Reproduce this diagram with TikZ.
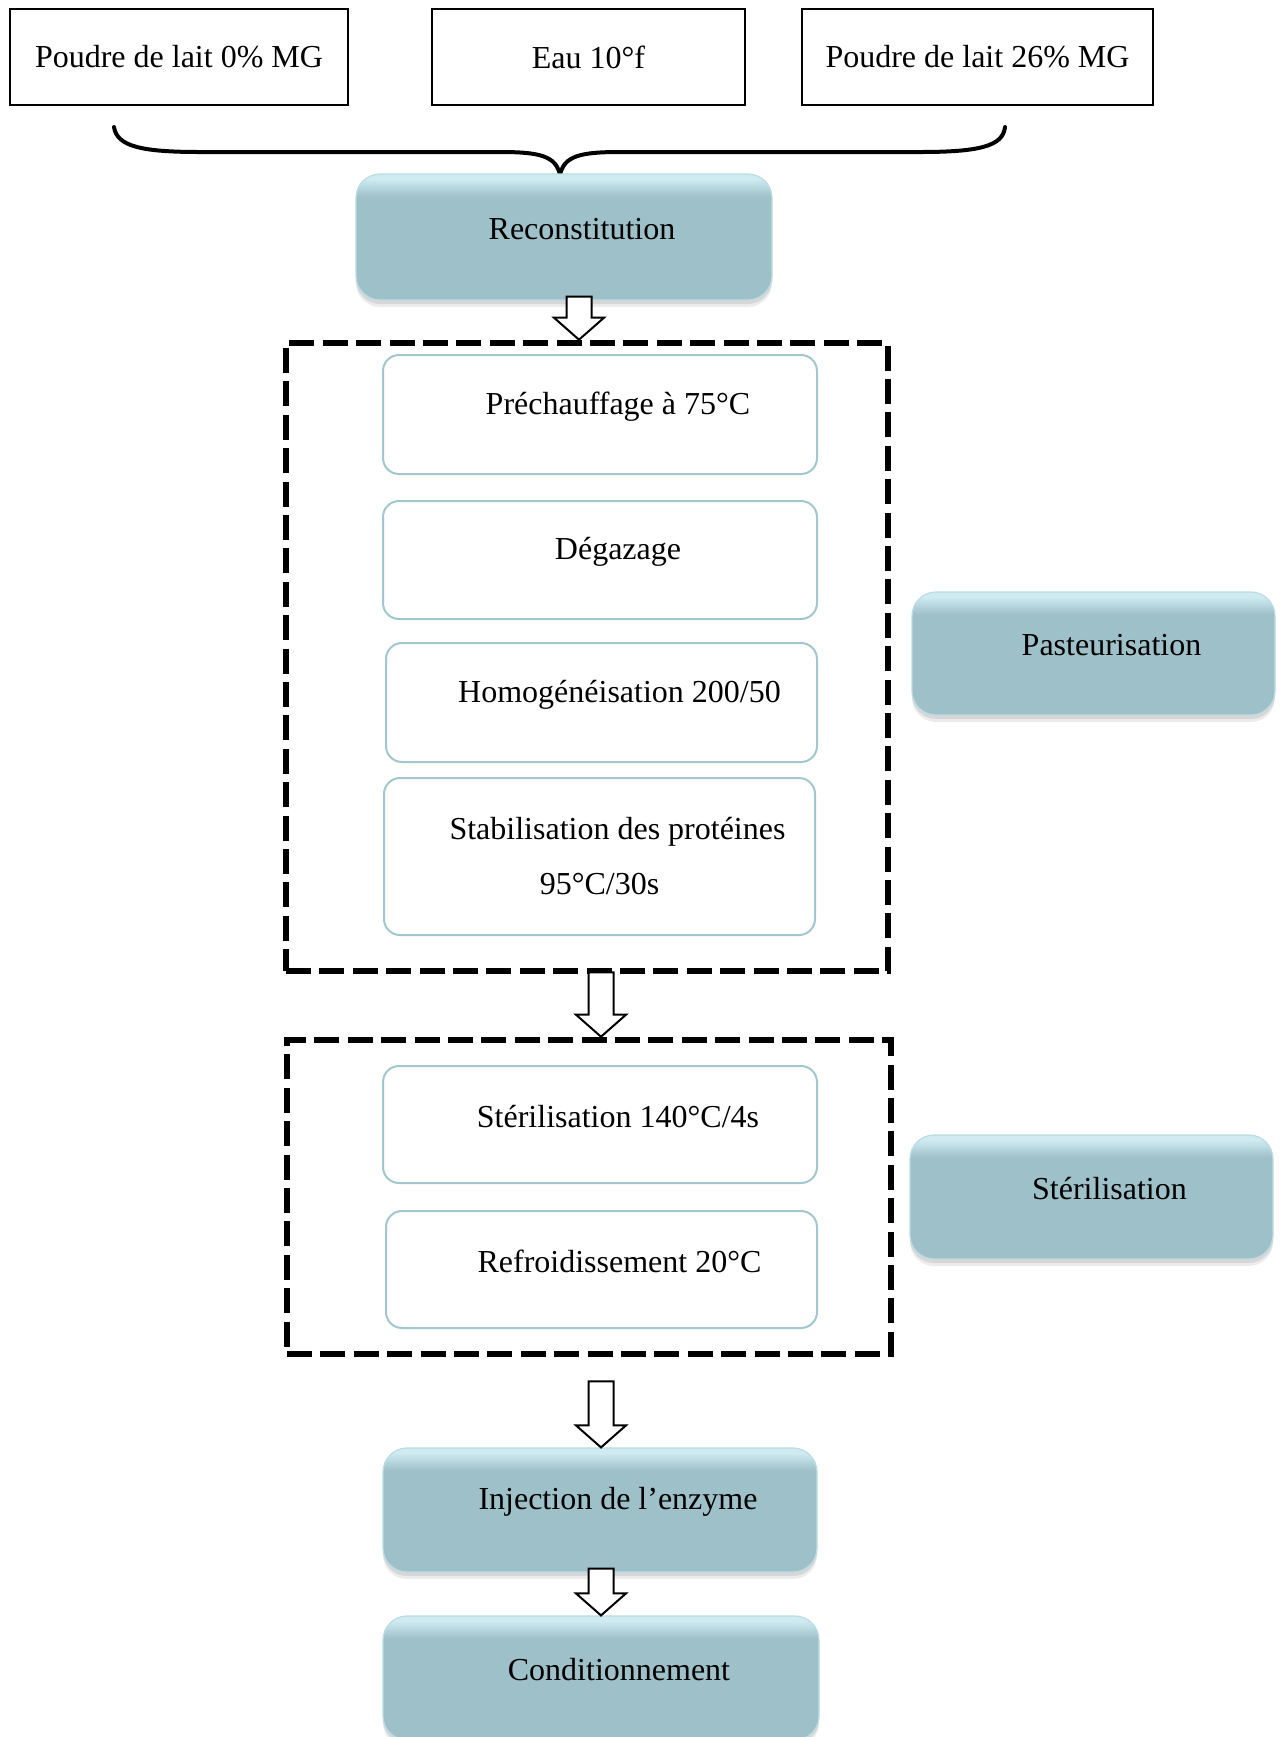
\documentclass[tikz,border=0pt]{standalone}
\usepackage{fontspec}
\setmainfont{Liberation Serif}
\usetikzlibrary{calc,shadows}

\definecolor{tealmain}{HTML}{9DC0C9}
\definecolor{tealtop}{HTML}{CFEBF1}
\definecolor{tealedge}{HTML}{BCDCE3}
\definecolor{opedge}{HTML}{A3C7D0}
\pgfdeclareverticalshading{stepshade}{100bp}{color(0bp)=(tealmain); color(66bp)=(tealmain); color(73bp)=(tealtop); color(100bp)=(tealtop)}

\tikzset{
  ingr/.style={draw, line width=1.2pt, minimum height=48pt},
  stepbox/.style={shading=stepshade, draw=tealedge, line width=0.6pt, rounded corners=12pt,
    drop shadow={shadow xshift=0pt, shadow yshift=-3.5pt, fill=black!50, opacity=0.15},
    drop shadow={shadow xshift=0pt, shadow yshift=-2pt, fill=black!50, opacity=0.2}},
  opbox/.style={draw=opedge, line width=1pt, rounded corners=8pt, fill=white},
  steptext/.style={xshift=9pt, yshift=4pt},
  zone/.style={draw, line width=3.3pt, dash pattern=on 12.5pt off 4.2pt},
  blockarrow/.style={draw=black, fill=white, line width=1pt, line join=miter},
  bracestyle/.style={line width=2pt, line cap=round}
}

\newcommand{\hollowarrow}[2]{%
  \draw[blockarrow] let \p1=(#1), \p2=(#2) in
    (\x1-6.25pt,\y1) -- (\x1+6.25pt,\y1) -- (\x1+6.25pt,\y2+11pt) -- (\x1+12.5pt,\y2+11pt)
    -- (\x1,\y2) -- (\x1-12.5pt,\y2+11pt) -- (\x1-6.25pt,\y2+11pt) -- cycle;}

\begin{document}
\begin{tikzpicture}[x=0.5pt,y=-0.5pt,
  every node/.style={font=\fontsize{16}{19}\selectfont}]
  \clip (0,0) rectangle (1283,1737);

  % Ingredients
  \node[ingr, minimum width=169pt] (p0) at (179,57) {Poudre de lait 0\% MG};
  \node[ingr, minimum width=156.5pt] (eau) at (588.5,57) {Eau 10°f};
  \node[ingr, minimum width=175.5pt] (p26) at (977.5,57) {Poudre de lait 26\% MG};

  % Brace
  \coordinate (bl) at (114,127);
  \coordinate (br) at (1005,127);
  \coordinate (bt) at (560,175);
  \draw[bracestyle] (bl) .. controls (117,146) and (140,152) .. (200,152) -- (500,152)
    .. controls (540,152) and (556,156) .. (bt)
    .. controls (564,156) and (580,152) .. (620,152) -- (920,152)
    .. controls (980,152) and (1003,146) .. (br);

  % Main steps
  \node[stepbox, minimum width=208pt, minimum height=63pt,
    label={[steptext]center:Reconstitution}] (recon) at (564,237) {};
  \node[stepbox, minimum width=181.5pt, minimum height=61.5pt,
    label={[steptext]center:Pasteurisation}] (pasteur) at (1093.5,653.5) {};
  \node[stepbox, minimum width=181.5pt, minimum height=62pt,
    label={[steptext]center:Stérilisation}] (steril) at (1091.5,1197) {};
  \node[stepbox, minimum width=217pt, minimum height=62pt,
    label={[steptext]center:Injection de l’enzyme}] (inject) at (600,1510) {};
  \node[stepbox, minimum width=218pt, minimum height=62pt,
    label={[steptext]center:Conditionnement}] (condit) at (601,1678) {};

  % Pasteurisation operations
  \node[opbox, minimum width=217pt, minimum height=59.5pt,
    label={[steptext]center:Préchauffage à 75°C}] (prech) at (600,414.5) {};
  \node[opbox, minimum width=217pt, minimum height=59pt,
    label={[steptext]center:Dégazage}] (degaz) at (600,560) {};
  \node[opbox, minimum width=215.5pt, minimum height=59.5pt,
    label={[steptext]center:Homogénéisation 200/50}] (homog) at (601.5,702.5) {};
  \node[opbox, minimum width=215.5pt, minimum height=78.5pt,
    label={[steptext,yshift=-4pt,align=center]center:{Stabilisation des protéines\\[8.5pt]95°C/30s\hspace*{18pt}}}] (stab) at (599.5,856.5) {};

  % Sterilisation operations
  \node[opbox, minimum width=217pt, minimum height=58.5pt,
    label={[steptext]center:Stérilisation 140°C/4s}] (ster) at (600,1124.5) {};
  \node[opbox, minimum width=215.5pt, minimum height=58.5pt,
    label={[steptext]center:Refroidissement 20°C}] (refr) at (601.5,1269.5) {};

  % Dashed zones
  \node[zone, minimum width=301pt, minimum height=314pt] (pasto) at (587,657) {};
  \node[zone, minimum width=302pt, minimum height=157pt] (sterz) at (589,1197) {};

  % Arrows
  \coordinate (axis1) at (579,0);
  \coordinate (axis2) at (601,0);
  \hollowarrow{[yshift=2pt]axis1 |- recon.south}{axis1 |- pasto.north}
  \hollowarrow{[yshift=1pt]axis2 |- pasto.south}{axis2 |- sterz.north}
  \hollowarrow{[yshift=-12pt]axis2 |- sterz.south}{axis2 |- inject.north}
  \hollowarrow{[yshift=2pt]axis2 |- inject.south}{axis2 |- condit.north}
\end{tikzpicture}
\end{document}
